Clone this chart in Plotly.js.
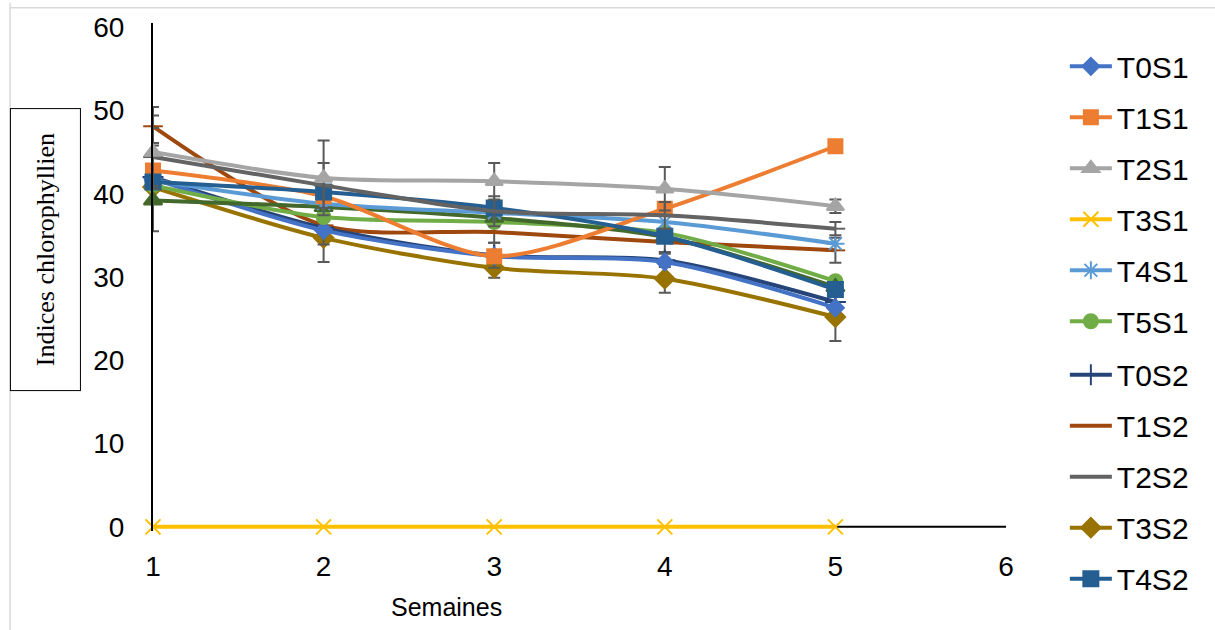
<!DOCTYPE html>
<html><head><meta charset="utf-8">
<script src="https://cdn.plot.ly/plotly-3.0.1.min.js"></script>
<style>html,body{margin:0;padding:0;background:#fff}#chart{width:1215px;height:630px}</style>
</head><body><div id="chart"></div>
<script>
const weeks = [1, 2, 3, 4, 5];
const names = ["T0S1","T1S1","T2S1","T3S1","T4S1","T5S1","T0S2","T1S2","T2S2","T3S2","T4S2","T5S2"];
const T0S1 = [41.8, 35.6, 32.5, 31.8, 26.3];
const T1S1 = [42.8, 39.7, 32.5, 38.2, 45.7];
const T2S1 = [45.0, 41.9, 41.5, 40.6, 38.5];
const T3S1 = [0, 0, 0, 0, 0];
const T4S1 = [41.6, 38.8, 37.7, 36.6, 34.0];
const T5S1 = [41.0, 37.2, 36.6, 35.3, 29.5];
const T0S2 = [42.0, 35.9, 32.6, 32.0, 27.0];
const T1S2 = [48.1, 36.2, 35.4, 34.2, 33.2];
const T2S2 = [44.4, 41.0, 37.9, 37.4, 35.8];
const T3S2 = [40.8, 34.7, 31.1, 29.8, 25.2];
const T4S2 = [41.4, 40.2, 38.3, 34.9, 28.5];
const T5S2 = [39.2, 38.4, 37.1, 34.8, 28.8];
const errT2S1 = [4.4, 4.5, 2.2, 2.6, 0.8];
const errT2S2 = [3.5, 2.7, 1.8, 1.6, 0.8];
const errT3S2 = [5.3, 2.9, 1.2, 1.7, 2.9];
const errT1S2 = [2.3, 1.5, 1.3, 1.2, 1.5];
const errT0S2 = [3.0, 2.0, 1.5, 0.8, 1.0];
const xTickVals = [1, 2, 3, 4, 5, 6];
const yTickVals = [0, 10, 20, 30, 40, 50, 60];

const series = [T0S1,T1S1,T2S1,T3S1,T4S1,T5S1,T0S2,T1S2,T2S2,T3S2,T4S2,T5S2];
const errs = {T2S1: errT2S1, T2S2: errT2S2, T3S2: errT3S2, T1S2: errT1S2, T0S2: errT0S2};
const colors = ["#4472C4","#ED7D31","#A5A5A5","#FFC000","#5B9BD5","#70AD47","#264478","#9E480E","#636363","#997300","#255E91","#43682B"];
const symbols = ["diamond","square","triangle-up","x-thin-open","asterisk-open","circle","cross-thin-open","line-ew-open","line-ew-open","diamond","square","triangle-up"];
const sizes = [13,14,15,15,15,14,15,14,14,15,15,16];

const traces = names.map((n, i) => {
  const t = {
    x: weeks, y: series[i], name: n, type: "scatter", mode: "lines+markers",
    legendgroup: n, showlegend: n !== "T5S2", cliponaxis: false,
    legend: i < 6 ? "legend" : "legend2",
    line: {color: colors[i], width: 4, shape: "spline", smoothing: 0.8},
    marker: {symbol: symbols[i], size: sizes[i], color: colors[i], line: {color: colors[i], width: 2}}
  };
  if (errs[n]) t.error_y = {type: "data", array: errs[n], visible: true, color: "#595959", thickness: 2, width: 6};
  return t;
});
const order = [7,9,6,0,5,11,4,1,10,8,2,3];
const data = order.map(i => traces[i]);
data.forEach(t => { t.legendrank = names.indexOf(t.name) + 1; });

const legendBase = {xanchor: "left", yanchor: "top", font: {size: 30},
  tracegroupgap: 9, itemwidth: 42, bgcolor: "rgba(0,0,0,0)"};

const layout = {
  width: 1215, height: 630,
  margin: {l: 153, r: 209, t: 23, b: 99},
  paper_bgcolor: "#fff", plot_bgcolor: "#fff",
  font: {family: "Liberation Sans, Arial, sans-serif", color: "#000"},
  xaxis: {range: [1, 6], tickvals: xTickVals, showgrid: false, zeroline: false,
    showline: false, ticks: "", tickfont: {size: 28}, ticklabelstandoff: 16},
  yaxis: {range: [-0.5, 60.5], tickvals: yTickVals, showgrid: false, zeroline: false,
    showline: true, linecolor: "#000", linewidth: 2, ticks: "", tickfont: {size: 28}, ticklabelstandoff: 21},
  shapes: [
    {type: "line", xref: "x", yref: "y", x0: 1, x1: 6, y0: 0, y1: 0, line: {color: "#000", width: 2}, layer: "below"},
    {type: "line", xref: "paper", yref: "paper", x0: -0.1676, x1: -0.1676, y0: 1.04, y1: -0.3, line: {color: "#D9D9D9", width: 1.5}},
    {type: "line", xref: "paper", yref: "paper", x0: -0.1676, x1: 1.3, y0: 1.03, y1: 1.03, line: {color: "#D9D9D9", width: 1.5}}
  ],
  legend: Object.assign({}, legendBase, {x: 1.069, y: 0.966}),
  legend2: Object.assign({}, legendBase, {x: 1.069, y: 0.359}),
  annotations: [
    {text: "Indices chlorophyllien", xref: "paper", yref: "paper", x: -0.1266, y: 0.553,
     xanchor: "center", yanchor: "middle",
     showarrow: false, textangle: -90, font: {family: "Liberation Serif, Times New Roman, serif", size: 26},
     bordercolor: "#000", borderwidth: 1, width: 281, height: 69, borderpad: 0, bgcolor: "#fff"},
    {text: "Semaines", xref: "paper", yref: "paper", x: 0.3435, y: -0.15, xanchor: "center", yanchor: "middle",
     showarrow: false, font: {size: 25}}
  ]
};
Plotly.newPlot("chart", data, layout, {displayModeBar: false});
</script></body></html>
